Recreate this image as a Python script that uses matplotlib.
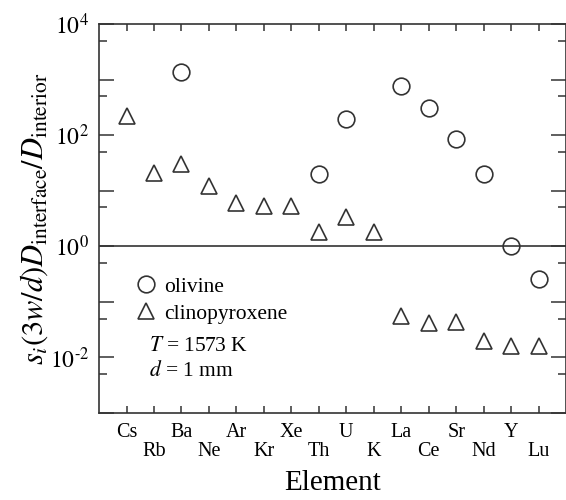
import matplotlib
matplotlib.use("Agg")
import matplotlib.pyplot as plt
from matplotlib.ticker import LogLocator, FixedLocator, NullFormatter
from matplotlib.lines import Line2D

elements = ["Cs", "Rb", "Ba", "Ne", "Ar", "Kr", "Xe", "Th",
            "U", "K", "La", "Ce", "Sr", "Nd", "Y", "Lu"]

# olivine: element -> value
olivine_elements = ["Ba", "Th", "U", "La", "Ce", "Sr", "Nd", "Y", "Lu"]
olivine_values = [1380, 20, 195, 770, 310, 87, 20, 1.0, 0.26]

cpx_elements = ["Cs", "Rb", "Ba", "Ne", "Ar", "Kr", "Xe", "Th",
                "U", "K", "La", "Ce", "Sr", "Nd", "Y", "Lu"]
cpx_values = [220, 21, 30, 12.4, 6.1, 5.4, 5.3, 1.8,
              3.4, 1.8, 0.056, 0.042, 0.043, 0.020, 0.016, 0.016]

plt.rcParams["font.family"] = ["Liberation Serif", "DejaVu Serif"]
plt.rcParams["mathtext.fontset"] = "stix"

fig = plt.figure(figsize=(5.66, 5.0), dpi=100)
ax = fig.add_axes([0.175, 0.174, 0.825, 0.778])

pos = {e: i for i, e in enumerate(elements)}
ec = "#333333"

ax.axhline(1.0, color="#222222", lw=1.1, zorder=1)
ax.plot([pos[e] for e in olivine_elements], olivine_values, linestyle="none",
        marker="o", ms=12, mfc="none", mec=ec, mew=1.2)
ax.plot([pos[e] for e in cpx_elements], cpx_values, linestyle="none",
        marker="^", ms=12, mfc="none", mec=ec, mew=1.2)

ax.set_yscale("log")
ax.set_ylim(1e-3, 1e4)
ax.set_xlim(-1, len(elements))

ax.yaxis.set_major_locator(FixedLocator([10.0 ** k for k in range(-3, 5)]))
ax.yaxis.set_minor_locator(LogLocator(base=10, subs=[5.0], numticks=20))
ax.yaxis.set_minor_formatter(NullFormatter())
ylabels = []
for k in range(-3, 5):
    if k % 2:
        ylabels.append("")
    elif k < 0:
        ylabels.append(r"$10^{\text{-}%d}$" % (-k))
    else:
        ylabels.append(r"$10^{%d}$" % k)
ax.set_yticklabels(ylabels)

ax.set_xticks(range(len(elements)))
ax.set_xticklabels([e if i % 2 == 0 else "\n" + e for i, e in enumerate(elements)],
                   linespacing=1.0)

ax.tick_params(axis="both", which="both", direction="in", top=True, right=True,
               color=ec)
ax.tick_params(axis="x", which="major", length=5, width=1.1, labelsize=14.5, pad=7)
ax.tick_params(axis="y", which="major", length=11, width=1.1, labelsize=17, pad=7)
ax.tick_params(axis="y", which="minor", length=5.5, width=1.1)
for sp in ax.spines.values():
    sp.set_linewidth(1.2)
    sp.set_color(ec)

ax.set_xlabel("Element", fontsize=21, labelpad=7)
ax.set_ylabel(r"$s_i(3w/d)D_{\rm interface}/D_{\rm interior}$", fontsize=22, labelpad=0)

handles = [
    Line2D([], [], linestyle="none", marker="o", ms=12, mfc="none", mec=ec, mew=1.2),
    Line2D([], [], linestyle="none", marker="^", ms=12, mfc="none", mec=ec, mew=1.2),
]
leg = ax.legend(handles, ["olivine", "clinopyroxene"], loc="upper left",
                bbox_to_anchor=(0.06, 0.372), frameon=False, fontsize=15.5,
                handletextpad=0.3, labelspacing=0.3, handlelength=1.0,
                borderaxespad=0)
ax.text(0.108, 0.172, r"$T$ = 1573 K", transform=ax.transAxes, fontsize=15.5, va="center")
ax.text(0.108, 0.108, r"$d$ = 1 mm", transform=ax.transAxes, fontsize=15.5, va="center")

fig.savefig("out.png", dpi=100)
